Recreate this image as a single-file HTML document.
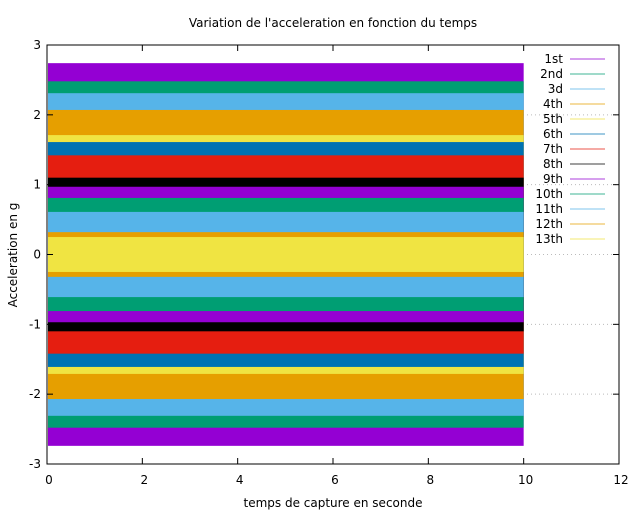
<!DOCTYPE html>
<html><head><meta charset="utf-8"><style>
body{margin:0;background:#fff}
svg text{font-family:"DejaVu Sans","Liberation Sans",sans-serif;font-size:12px;fill:#000}
</style></head><body>
<svg id="chart" width="640" height="512">
<text x="333" y="27" text-anchor="middle">Variation de l'acceleration en fonction du temps</text>
<text x="333" y="507" text-anchor="middle">temps de capture en seconde</text>
<text transform="translate(17,255) rotate(-90)" text-anchor="middle">Acceleration en g</text>
<g id="grid"></g><g id="bands"></g><g id="axes"></g><g id="legend"></g>
</svg>
<script>
const seriesNames=["1st","2nd","3d","4th","5th","6th","7th","8th","9th","10th","11th","12th","13th"];
const amplitudes=[2.74,2.48,2.31,2.07,1.71,1.61,1.42,1.10,0.97,0.81,0.61,0.32,0.25];
const tStart=[0];
const tEnd=[10];
const xTicks=[0,2,4,6,8,10,12];
const yTicks=[-3,-2,-1,0,1,2,3];
const colors=["#9400d3","#009e73","#56b4e9","#e69f00","#f0e442","#0072b2","#e51e10","#000000"];
const L=47,R=619,T=45,B=464;
const X=v=>L+(v-0)/12*(R-L);
const Y=v=>T+(3-v)/6*(B-T);
const NS="http://www.w3.org/2000/svg";
function mk(p,tag,at){const e=document.createElementNS(NS,tag);for(const k in at)e.setAttribute(k,at[k]);p.appendChild(e);return e;}
const grid=document.getElementById('grid'),bands=document.getElementById('bands'),axes=document.getElementById('axes'),leg=document.getElementById('legend');
yTicks.forEach(v=>{
 const g=mk(grid,'line',{x1:L,x2:R,y1:Y(v),y2:Y(v),stroke:'#bbb','stroke-width':1,'stroke-dasharray':'1,3'});
 
 
 const t=mk(axes,'text',{x:L-6,y:Y(v)+4,'text-anchor':'end'});t.textContent=v;
 
 
 mk(axes,'line',{x1:L,x2:L+6,y1:Y(v),y2:Y(v),stroke:'#000'});
 mk(axes,'line',{x1:R,x2:R-6,y1:Y(v),y2:Y(v),stroke:'#000'});
});
xTicks.forEach(v=>{
 const t=mk(axes,'text',{x:X(v)+2,y:B+20,'text-anchor':'middle'});t.textContent=v;
 
 
 mk(axes,'line',{x1:X(v),x2:X(v),y1:B,y2:B-6,stroke:'#000'});
 mk(axes,'line',{x1:X(v),x2:X(v),y1:T,y2:T+6,stroke:'#000'});
});
amplitudes.forEach((a,i)=>{
 const r=mk(bands,'rect',{x:X(tStart[0])+1,y:Y(a),width:X(tEnd[0])-X(tStart[0])-1,height:Y(-a)-Y(a),fill:colors[i%8]});
 
 
 const ly=59+i*15;
 const t=mk(leg,'text',{x:563,y:ly+4,'text-anchor':'end'});t.textContent=seriesNames[i];
 
 
 const l=mk(leg,'line',{x1:570,x2:605,y1:ly,y2:ly,stroke:colors[i%8],'stroke-width':1.5,'stroke-opacity':0.5});
 
 
});
const f=mk(axes,'rect',{x:L,y:T,width:R-L,height:B-T,fill:'none',stroke:'#000','stroke-width':1});


</script>
</body></html>
